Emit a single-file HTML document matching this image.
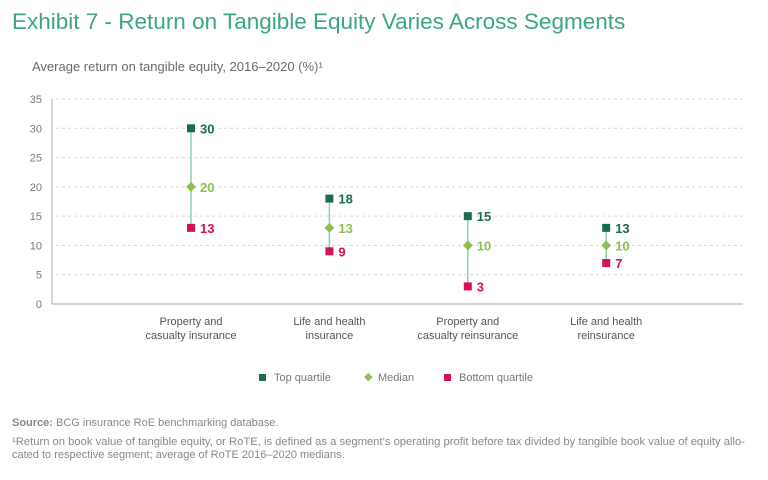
<!DOCTYPE html>
<html><head><meta charset="utf-8"><style>
body{margin:0;background:#fff;width:768px;height:475px;overflow:hidden;font-family:"Liberation Sans",sans-serif}
</style></head><body>
<svg width="768" height="475" viewBox="0 0 768 475" xmlns="http://www.w3.org/2000/svg" font-family="Liberation Sans, sans-serif">
<text x="12" y="29" font-size="22.5" fill="#3aa77f">Exhibit 7 - Return on Tangible Equity Varies Across Segments</text>
<text x="32" y="71" font-size="13" fill="#6b6b6b">Average return on tangible equity, 2016–2020 (%)¹</text>
<g id="grid"></g><g id="plot"></g>
<g font-size="11" fill="#777">
<rect x="259" y="374" width="7" height="7" fill="#1d6b4f"/>
<text x="274" y="381">Top quartile</text>
<rect x="365" y="374" width="6" height="6" fill="#8dc04f" transform="rotate(45 368 377.5)"/>
<text x="378" y="381">Median</text>
<rect x="444" y="374" width="7" height="7" fill="#d9124d"/>
<text x="459" y="381">Bottom quartile</text>
</g>
<text x="12" y="426" font-size="11" fill="#888"><tspan font-weight="bold">Source:</tspan> BCG insurance RoE benchmarking database.</text>
<text x="12" y="445" font-size="11" fill="#888" textLength="733" lengthAdjust="spacingAndGlyphs">¹Return on book value of tangible equity, or RoTE, is defined as a segment’s operating profit before tax divided by tangible book value of equity allo-</text>
<text x="12" y="458" font-size="11" fill="#888">cated to respective segment; average of RoTE 2016–2020 medians.</text>
</svg>
<script>
const categories=[["Property and","casualty insurance"],["Life and health","insurance"],["Property and","casualty reinsurance"],["Life and health","reinsurance"]];
const topQuartile=[30,18,15,13];
const median=[20,13,10,10];
const bottomQuartile=[13,9,3,7];
const yTicks=[0,5,10,15,20,25,30,35];
const NS="http://www.w3.org/2000/svg";
const x0=52,x1=743,y0=304,yTop=99;
const y=v=>y0-(v/35)*(y0-yTop);
const x=i=>191+i*138.4;
function mk(p,tag,a,txt){const e=document.createElementNS(NS,tag);for(const k in a)e.setAttribute(k,a[k]);if(txt!=null)e.textContent=txt;p.appendChild(e);return e;}
const g=document.getElementById('grid'),pl=document.getElementById('plot');
yTicks.forEach(t=>{
 if(t>0){const l=mk(g,'line',{x1:x0+4,x2:x1,y1:y(t),y2:y(t),stroke:'#d8d8d8','stroke-dasharray':'3,3'});
 
 }
 const tx=mk(g,'text',{x:42,y:y(t)+4,'text-anchor':'end','font-size':'11',fill:'#777'},t);
 
 
});
const ya=mk(g,'line',{x1:x0,x2:x0,y1:yTop,y2:y0,stroke:'#aaa'});


const xa=mk(g,'line',{x1:x0,x2:x1,y1:y0,y2:y0,stroke:'#aaa'});


categories.forEach((c,i)=>{
 const cx=x(i);
 const ln=mk(pl,'line',{x1:cx,x2:cx,y1:y(topQuartile[i]),y2:y(bottomQuartile[i]),stroke:'#8fcfb3','stroke-width':1.5});
 
 
 const r1=mk(pl,'rect',{x:cx-4,y:y(topQuartile[i])-4,width:8,height:8,fill:'#1d6b4f'});
 
 
 const d=mk(pl,'rect',{x:cx-3.5,y:y(median[i])-3.5,width:7,height:7,fill:'#8dc04f',transform:`rotate(45 ${cx} ${y(median[i])})`});
 
 
 const r2=mk(pl,'rect',{x:cx-4,y:y(bottomQuartile[i])-4,width:8,height:8,fill:'#d9124d'});
 
 
 [[topQuartile[i],'#1d6b4f','top-quartile-label'],[median[i],'#8dc04f','median-label'],[bottomQuartile[i],'#d9124d','bottom-quartile-label']].forEach(([v,col,n])=>{
  const t=mk(pl,'text',{x:cx+9,y:y(v)+5,'font-size':'13','font-weight':'bold',fill:col},v);
  
  
 });
 c.forEach((s,j)=>{
  const t=mk(pl,'text',{x:cx,y:325+j*14,'text-anchor':'middle','font-size':'11',fill:'#555'},s);
  
  
 });
});
</script>
</body></html>
